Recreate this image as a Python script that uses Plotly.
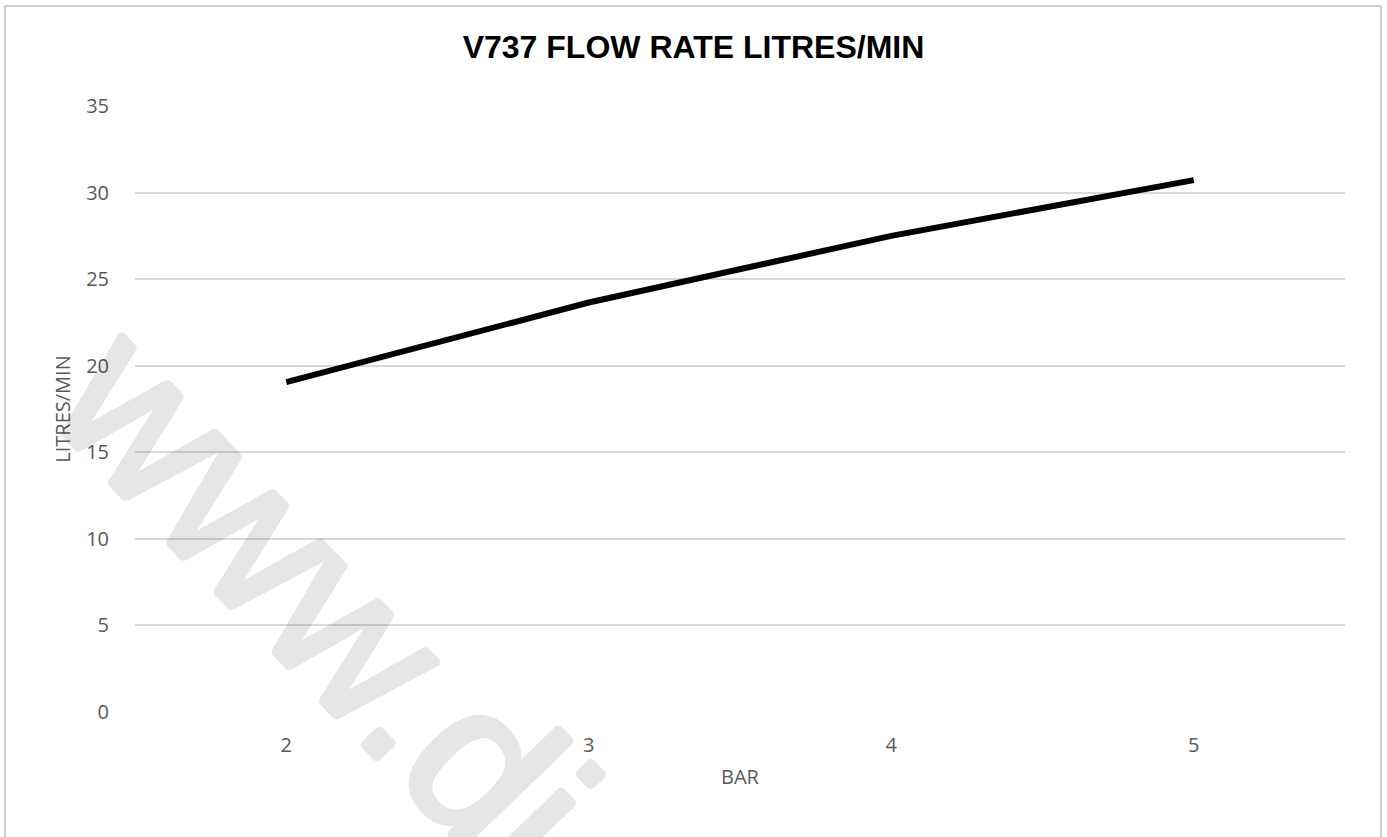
import plotly.graph_objects as go

bar = ["2", "3", "4", "5"]
flow = [19.05, 23.65, 27.5, 30.72]
y_ticks = [0, 5, 10, 15, 20, 25, 30, 35]

W, H = 1387, 837
L, R, T, B = 135, 42, 106, 125
pw, ph = W - L - R, H - T - B

def px(sx):
    return (sx - L) / pw

def py(sy):
    return (H - B - sy) / ph

thick = ", ".join(f"{dx}px {dy}px 0 #000" for dx, dy in
                  [(3, 0), (-3, 0), (0, 3), (0, -3), (2, 2), (2, -2), (-2, 2), (-2, -2)])

fig = go.Figure()
fig.add_trace(go.Scatter(x=bar, y=flow, mode="lines",
                         line=dict(color="black", width=6), showlegend=False))

fig.update_layout(
    width=W, height=H,
    margin=dict(l=L, r=R, t=T, b=B, autoexpand=False),
    paper_bgcolor="white", plot_bgcolor="white",
    title=dict(text="<b>V737 FLOW RATE LITRES/MIN</b>", x=0.5, xanchor="center",
               y=1 - 47 / H, yanchor="middle",
               font=dict(family="Liberation Sans, Arial", size=32, color="black")),
    font=dict(family="Open Sans", color="#595959"),
    xaxis=dict(type="category", range=[-0.5, 3.5], showgrid=False, showline=False,
               zeroline=False, ticks="", tickfont=dict(size=20, color="#595959"),
               ticklabelstandoff=19,
               title=dict(text="BAR", font=dict(size=20, color="#595959"), standoff=12)),
    yaxis=dict(range=[0, 35], tickvals=y_ticks, showgrid=True, gridcolor="#d9d9d9",
               gridwidth=1.5, zeroline=False, showline=False, ticks="",
               tickfont=dict(size=20, color="#595959"), ticklabelstandoff=25,
               title=dict(text="LITRES/MIN", font=dict(size=20, color="#595959"), standoff=10)),
    shapes=[dict(type="rect", xref="paper", yref="paper",
                 x0=px(5), x1=px(1381), y0=py(6), y1=py(850),
                 line=dict(color="#d0d0d0", width=2), fillcolor="rgba(0,0,0,0)", layer="below")],
    annotations=[dict(text="www.di", xref="paper", yref="paper",
                      x=px(325), y=py(600), xanchor="center", yanchor="middle",
                      textangle=46, showarrow=False, opacity=0.095,
                      font=dict(family="Liberation Sans, Arial", size=210, color="#000",
                                shadow=thick))],
)

fig.write_html("out.html", config={"displayModeBar": False},
               post_script="document.body.style.margin='0';")
